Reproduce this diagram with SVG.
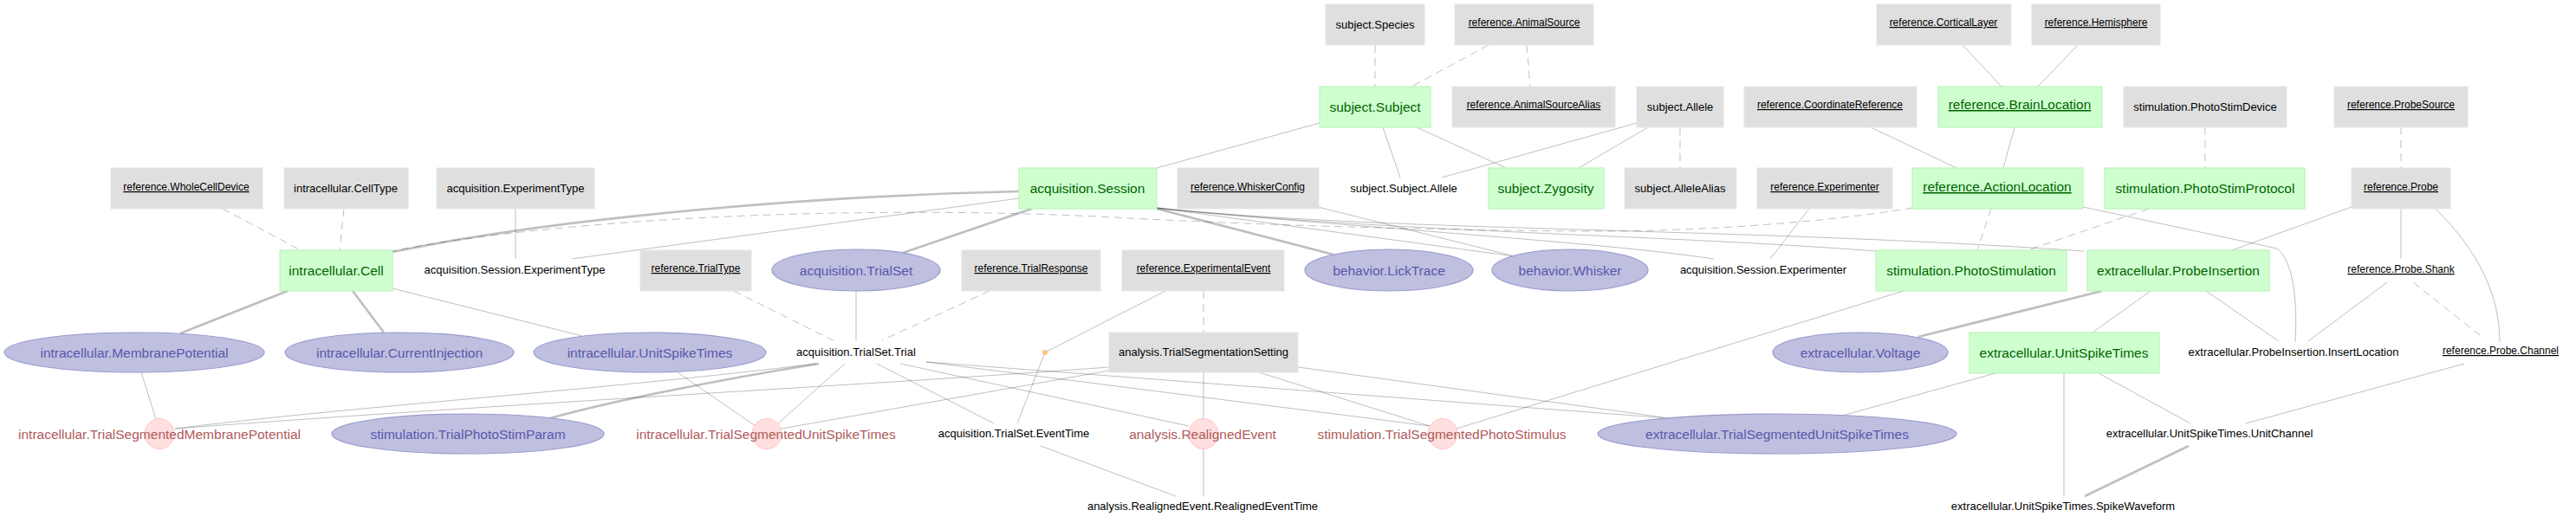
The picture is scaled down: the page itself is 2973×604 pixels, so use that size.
<svg xmlns="http://www.w3.org/2000/svg" width="2973" height="604" viewBox="0 0 2973 604">
<style>
text{font-family:"Liberation Sans",Arial,sans-serif;text-anchor:middle}
.lk{fill:#DFDFDF;stroke:#E6E6E6;stroke-width:1}
.mn{fill:#CFFFCF;stroke:#B2F2B2;stroke-width:1}
.im{fill:#BFBFDF;stroke:#9A9ACF;stroke-width:1.2}
.cp{fill:#FFDFDF;stroke:#FFC4C4;stroke-width:1}
.t{font-size:13px;fill:#000}
.u{font-size:12px;fill:#000;text-decoration:underline}
.g{font-size:15.5px;fill:#006400}
.gu{font-size:15.5px;fill:#006400;text-decoration:underline}
.b{font-size:15.5px;fill:#5858AC}
.r{font-size:15.5px;fill:#AF5A5A}
#edges path{fill:none;stroke:#000;stroke-opacity:0.25;stroke-width:1}
#edges .k{stroke-width:2.7}
#edges .d{stroke-dasharray:9,6}
</style>
<g id="edges">
<path class="d" d="M1587,52 L1587,100"/>
<path class="d" d="M1718,52 L1629,100"/>
<path class="d" d="M1762,52 L1766,100"/>
<path class="d" d="M1939,147 L1939,194"/>
<path class="d" d="M2545,147 L2545,194"/>
<path class="d" d="M2771,147 L2771,194"/>
<path class="d" d="M257,241 L347,289"/>
<path class="d" d="M397,241 L392,289"/>
<path class="d" d="M2208,240 C2100,258 1950,267 1850,267 C1700,267 1450,260 1304,252 C1150,243 950,242 750,255 C620,264 520,276 453,290"/>
<path class="d" d="M2298,241 L2282,289"/>
<path class="d" d="M2480,241 L2340,289"/>
<path class="d" d="M847,336 L965,395"/>
<path class="d" d="M1142,336 L1018,393"/>
<path class="d" d="M1389,336 L1389,384"/>
<path class="d" d="M2785,326 L2867,391"/>
<path class="k" d="M1176,221 C950,226 650,250 453,291"/>
<path class="k" d="M1191,241 L1042,292"/>
<path class="k" d="M1335,241 L1539,294"/>
<path class="k" d="M332,336 L208,385"/>
<path class="k" d="M407,336 L443,384"/>
<path class="k" d="M2426,336 L2214,389"/>
<path class="k" d="M945,420 C820,440 700,465 635,483"/>
<path class="k" d="M2526,515 L2406,573"/>
<path d="M1523,142 L1335,194"/>
<path d="M1596,147 L1616,205"/>
<path d="M1635,147 L1738,194"/>
<path d="M1889,142 L1664,205"/>
<path d="M1902,147 L1822,194"/>
<path d="M2159,147 L2258,194"/>
<path d="M2265,52 L2310,100"/>
<path d="M2398,52 L2352,100"/>
<path d="M2325,147 L2312,194"/>
<path d="M2088,241 L2043,299"/>
<path d="M2404,239 L2628,287 C2645,300 2652,340 2649,395"/>
<path d="M2714,239 L2576,289"/>
<path d="M2771,241 L2771,299"/>
<path d="M2811,241 C2860,290 2885,340 2885,395"/>
<path d="M2755,326 L2664,394"/>
<path d="M2546,336 L2630,394"/>
<path d="M2482,336 L2415,384"/>
<path d="M2303,431 L2126,480"/>
<path d="M2422,431 L2528,489"/>
<path d="M2382,431 L2382,573"/>
<path d="M2844,420 L2592,489"/>
<path d="M2197,336 L1681,495"/>
<path d="M1176,229 L660,299"/>
<path d="M595,241 L595,299"/>
<path d="M1335,240 L1748,296"/>
<path d="M1521,239 L1748,296"/>
<path d="M1335,240 C1600,268 1900,270 2166,290"/>
<path d="M1335,240 C1600,268 2000,262 2405,290"/>
<path d="M1335,241 C1600,265 1850,280 1978,299"/>
<path d="M453,333 L672,388"/>
<path d="M988,336 L988,394"/>
<path d="M1345,336 L1206,407"/>
<path d="M1206,407 L1174,489"/>
<path d="M1389,430 L1389,484"/>
<path d="M1389,518 L1389,573"/>
<path d="M1201,515 L1357,573"/>
<path d="M975,420 L898,489"/>
<path d="M782,430 L872,492"/>
<path d="M1280,428 L902,495"/>
<path d="M1012,420 L1147,489"/>
<path d="M1039,420 L1372,492"/>
<path d="M1069,418 L1650,492"/>
<path d="M1069,418 L1926,483"/>
<path d="M1453,430 L1650,492"/>
<path d="M1498,424 L1920,482"/>
<path d="M163,430 L180,484"/>
<path d="M942,420 C700,450 400,470 202,495"/>
<path d="M1280,424 C1000,445 600,465 202,495"/>
</g>
<g id="subject.Species"><rect class="lk" x="1530" y="5" width="114" height="47"/><text class="t" x="1587" y="33">subject.Species</text></g>
<g id="reference.AnimalSource"><rect class="lk" x="1679" y="5" width="160" height="47"/><text class="u" x="1759" y="30">reference.AnimalSource</text></g>
<g id="reference.CorticalLayer"><rect class="lk" x="2166" y="5" width="155" height="47"/><text class="u" x="2243" y="30">reference.CorticalLayer</text></g>
<g id="reference.Hemisphere"><rect class="lk" x="2345" y="5" width="148" height="47"/><text class="u" x="2419" y="30">reference.Hemisphere</text></g>
<g id="subject.Subject"><rect class="mn" x="1523" y="100" width="128" height="47"/><text class="g" x="1587" y="129">subject.Subject</text></g>
<g id="reference.AnimalSourceAlias"><rect class="lk" x="1676" y="100" width="188" height="47"/><text class="u" x="1770" y="125">reference.AnimalSourceAlias</text></g>
<g id="subject.Allele"><rect class="lk" x="1889" y="100" width="100" height="47"/><text class="t" x="1939" y="128">subject.Allele</text></g>
<g id="reference.CoordinateReference"><rect class="lk" x="2013" y="100" width="199" height="47"/><text class="u" x="2112" y="125">reference.CoordinateReference</text></g>
<g id="reference.BrainLocation"><rect class="mn" x="2237" y="100" width="189" height="47"/><text class="gu" x="2331" y="126">reference.BrainLocation</text></g>
<g id="stimulation.PhotoStimDevice"><rect class="lk" x="2451" y="100" width="188" height="47"/><text class="t" x="2545" y="128">stimulation.PhotoStimDevice</text></g>
<g id="reference.ProbeSource"><rect class="lk" x="2694" y="100" width="154" height="47"/><text class="u" x="2771" y="125">reference.ProbeSource</text></g>
<g id="reference.WholeCellDevice"><rect class="lk" x="128" y="194" width="175" height="47"/><text class="u" x="215" y="220">reference.WholeCellDevice</text></g>
<g id="intracellular.CellType"><rect class="lk" x="328" y="194" width="143" height="47"/><text class="t" x="399" y="222">intracellular.CellType</text></g>
<g id="acquisition.ExperimentType"><rect class="lk" x="504" y="194" width="182" height="47"/><text class="t" x="595" y="222">acquisition.ExperimentType</text></g>
<g id="acquisition.Session"><rect class="mn" x="1176" y="194" width="159" height="47"/><text class="g" x="1255" y="223">acquisition.Session</text></g>
<g id="reference.WhiskerConfig"><rect class="lk" x="1359" y="194" width="163" height="47"/><text class="u" x="1440" y="220">reference.WhiskerConfig</text></g>
<g id="subject.Subject.Allele"><text class="t" x="1620" y="222">subject.Subject.Allele</text></g>
<g id="subject.Zygosity"><rect class="mn" x="1718" y="194" width="133" height="47"/><text class="g" x="1784" y="223">subject.Zygosity</text></g>
<g id="subject.AlleleAlias"><rect class="lk" x="1875" y="194" width="129" height="47"/><text class="t" x="1939" y="222">subject.AlleleAlias</text></g>
<g id="reference.Experimenter"><rect class="lk" x="2028" y="194" width="156" height="47"/><text class="u" x="2106" y="220">reference.Experimenter</text></g>
<g id="reference.ActionLocation"><rect class="mn" x="2207" y="194" width="197" height="47"/><text class="gu" x="2305" y="221">reference.ActionLocation</text></g>
<g id="stimulation.PhotoStimProtocol"><rect class="mn" x="2429" y="194" width="231" height="47"/><text class="g" x="2545" y="223">stimulation.PhotoStimProtocol</text></g>
<g id="reference.Probe"><rect class="lk" x="2714" y="194" width="114" height="47"/><text class="u" x="2771" y="220">reference.Probe</text></g>
<g id="intracellular.Cell"><rect class="mn" x="323" y="289" width="130" height="47"/><text class="g" x="388" y="318">intracellular.Cell</text></g>
<g id="acquisition.Session.ExperimentType"><text class="t" x="594" y="316">acquisition.Session.ExperimentType</text></g>
<g id="reference.TrialType"><rect class="lk" x="739" y="289" width="128" height="47"/><text class="u" x="803" y="314">reference.TrialType</text></g>
<g id="acquisition.TrialSet"><ellipse class="im" cx="988" cy="312" rx="97" ry="24"/><text class="b" x="988" y="318">acquisition.TrialSet</text></g>
<g id="reference.TrialResponse"><rect class="lk" x="1110" y="289" width="160" height="47"/><text class="u" x="1190" y="314">reference.TrialResponse</text></g>
<g id="reference.ExperimentalEvent"><rect class="lk" x="1295" y="289" width="187" height="47"/><text class="u" x="1389" y="314">reference.ExperimentalEvent</text></g>
<g id="behavior.LickTrace"><ellipse class="im" cx="1603" cy="312" rx="97" ry="24"/><text class="b" x="1603" y="318">behavior.LickTrace</text></g>
<g id="behavior.Whisker"><ellipse class="im" cx="1812" cy="312" rx="90" ry="24"/><text class="b" x="1812" y="318">behavior.Whisker</text></g>
<g id="acquisition.Session.Experimenter"><text class="t" x="2035" y="316">acquisition.Session.Experimenter</text></g>
<g id="stimulation.PhotoStimulation"><rect class="mn" x="2165" y="289" width="220" height="47"/><text class="g" x="2275" y="318">stimulation.PhotoStimulation</text></g>
<g id="extracellular.ProbeInsertion"><rect class="mn" x="2409" y="289" width="210" height="47"/><text class="g" x="2514" y="318">extracellular.ProbeInsertion</text></g>
<g id="reference.Probe.Shank"><text class="u" x="2771" y="315">reference.Probe.Shank</text></g>
<g id="intracellular.MembranePotential"><ellipse class="im" cx="155" cy="407" rx="150" ry="23"/><text class="b" x="155" y="413">intracellular.MembranePotential</text></g>
<g id="intracellular.CurrentInjection"><ellipse class="im" cx="461" cy="407" rx="132" ry="23"/><text class="b" x="461" y="413">intracellular.CurrentInjection</text></g>
<g id="intracellular.UnitSpikeTimes"><ellipse class="im" cx="750" cy="407" rx="134" ry="23"/><text class="b" x="750" y="413">intracellular.UnitSpikeTimes</text></g>
<g id="acquisition.TrialSet.Trial"><text class="t" x="988" y="411">acquisition.TrialSet.Trial</text></g>
<g id="alias"><circle cx="1206" cy="407" r="3" fill="#FFC480"/></g>
<g id="analysis.TrialSegmentationSetting"><rect class="lk" x="1280" y="384" width="218" height="46"/><text class="t" x="1389" y="411">analysis.TrialSegmentationSetting</text></g>
<g id="extracellular.Voltage"><ellipse class="im" cx="2147" cy="407" rx="101" ry="23"/><text class="b" x="2147" y="413">extracellular.Voltage</text></g>
<g id="extracellular.UnitSpikeTimes"><rect class="mn" x="2273" y="384" width="219" height="47"/><text class="g" x="2382" y="413">extracellular.UnitSpikeTimes</text></g>
<g id="extracellular.ProbeInsertion.InsertLocation"><text class="t" x="2647" y="411">extracellular.ProbeInsertion.InsertLocation</text></g>
<g id="reference.Probe.Channel"><text class="u" x="2886" y="409">reference.Probe.Channel</text></g>
<g id="intracellular.TrialSegmentedMembranePotential"><ellipse class="cp" cx="184" cy="501" rx="17" ry="17.5"/><text class="r" x="184" y="507">intracellular.TrialSegmentedMembranePotential</text></g>
<g id="stimulation.TrialPhotoStimParam"><ellipse class="im" cx="540" cy="501" rx="157" ry="23"/><text class="b" x="540" y="507">stimulation.TrialPhotoStimParam</text></g>
<g id="intracellular.TrialSegmentedUnitSpikeTimes"><ellipse class="cp" cx="885" cy="501" rx="17" ry="17.5"/><text class="r" x="884" y="507">intracellular.TrialSegmentedUnitSpikeTimes</text></g>
<g id="acquisition.TrialSet.EventTime"><text class="t" x="1170" y="505">acquisition.TrialSet.EventTime</text></g>
<g id="analysis.RealignedEvent"><ellipse class="cp" cx="1389" cy="501" rx="17" ry="17.5"/><text class="r" x="1388" y="507">analysis.RealignedEvent</text></g>
<g id="stimulation.TrialSegmentedPhotoStimulus"><ellipse class="cp" cx="1665" cy="501" rx="17" ry="17.5"/><text class="r" x="1664" y="507">stimulation.TrialSegmentedPhotoStimulus</text></g>
<g id="extracellular.TrialSegmentedUnitSpikeTimes"><ellipse class="im" cx="2051" cy="501" rx="207" ry="23"/><text class="b" x="2051" y="507">extracellular.TrialSegmentedUnitSpikeTimes</text></g>
<g id="extracellular.UnitSpikeTimes.UnitChannel"><text class="t" x="2550" y="505">extracellular.UnitSpikeTimes.UnitChannel</text></g>
<g id="analysis.RealignedEvent.RealignedEventTime"><text class="t" x="1388" y="589">analysis.RealignedEvent.RealignedEventTime</text></g>
<g id="extracellular.UnitSpikeTimes.SpikeWaveform"><text class="t" x="2381" y="589">extracellular.UnitSpikeTimes.SpikeWaveform</text></g>
</svg>
